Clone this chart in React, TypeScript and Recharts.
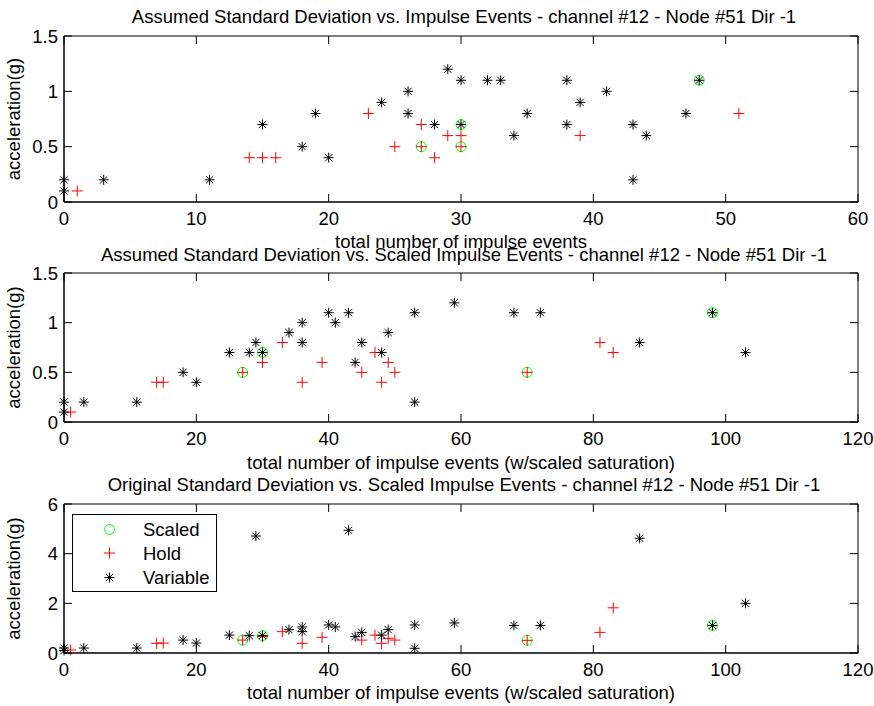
import React from 'react';
import { ScatterChart, Scatter, XAxis, YAxis, ReferenceArea, Legend } from 'recharts';

const FONT = '"Liberation Sans", Arial, Helvetica, sans-serif';
const FS = 18.5;

// ---------- Plot 1: Assumed Standard Deviation vs. Impulse Events ----------
const p1ScaledX = [27, 30, 30, 48];
const p1ScaledY = [0.5, 0.7, 0.5, 1.1];
const p1HoldX = [1, 14, 15, 16, 23, 25, 27, 27, 28, 29, 30, 30, 39, 51];
const p1HoldY = [0.1, 0.4, 0.4, 0.4, 0.8, 0.5, 0.5, 0.7, 0.4, 0.6, 0.6, 0.5, 0.6, 0.8];
const p1VarX = [0, 0, 3, 11, 15, 18, 19, 20, 24, 26, 26, 28, 29, 30, 30, 32, 33, 34, 35, 38, 38, 39, 41, 43, 43, 44, 47, 48];
const p1VarY = [0.2, 0.1, 0.2, 0.2, 0.7, 0.5, 0.8, 0.4, 0.9, 1.0, 0.8, 0.7, 1.2, 1.1, 0.7, 1.1, 1.1, 0.6, 0.8, 1.1, 0.7, 0.9, 1.0, 0.7, 0.2, 0.6, 0.8, 1.1];

// ---------- Plot 2: Assumed Standard Deviation vs. Scaled Impulse Events ----------
const p2ScaledX = [27, 30, 70, 98];
const p2ScaledY = [0.5, 0.7, 0.5, 1.1];
const p2HoldX = [1, 14, 15, 27, 30, 33, 36, 39, 45, 47, 48, 49, 50, 70, 81, 83];
const p2HoldY = [0.1, 0.4, 0.4, 0.5, 0.6, 0.8, 0.4, 0.6, 0.5, 0.7, 0.4, 0.6, 0.5, 0.5, 0.8, 0.7];
const p2VarX = [0, 0, 3, 11, 18, 20, 25, 28, 29, 30, 34, 36, 36, 40, 41, 43, 44, 45, 48, 49, 53, 53, 59, 68, 72, 87, 98, 103];
const p2VarY = [0.2, 0.1, 0.2, 0.2, 0.5, 0.4, 0.7, 0.7, 0.8, 0.7, 0.9, 1.0, 0.8, 1.1, 1.0, 1.1, 0.6, 0.8, 0.7, 0.9, 1.1, 0.2, 1.2, 1.1, 1.1, 0.8, 1.1, 0.7];

// ---------- Plot 3: Original Standard Deviation vs. Scaled Impulse Events ----------
const p3ScaledX = [27, 30, 70, 98];
const p3ScaledY = [0.52, 0.7, 0.51, 1.11];
const p3HoldX = [1, 14, 15, 27, 30, 33, 36, 39, 45, 47, 48, 49, 50, 70, 81, 83];
const p3HoldY = [0.12, 0.39, 0.4, 0.52, 0.66, 0.86, 0.39, 0.63, 0.52, 0.72, 0.39, 0.59, 0.52, 0.51, 0.83, 1.82];
const p3VarX = [0, 0, 3, 11, 18, 20, 25, 28, 29, 30, 34, 36, 36, 40, 41, 43, 44, 45, 48, 49, 53, 53, 59, 68, 72, 87, 98, 103];
const p3VarY = [0.2, 0.1, 0.2, 0.2, 0.52, 0.4, 0.72, 0.7, 4.71, 0.7, 0.94, 1.05, 0.86, 1.13, 1.05, 4.94, 0.66, 0.83, 0.72, 0.94, 1.13, 0.19, 1.21, 1.11, 1.11, 4.62, 1.11, 2.0];

// ---------- Ticks & labels ----------
const xTicks1 = [0, 10, 20, 30, 40, 50, 60];
const xTicks23 = [0, 20, 40, 60, 80, 100, 120];
const yTicks12 = [0, 0.5, 1, 1.5];
const yTicks3 = [0, 2, 4, 6];
const titles = [
  'Assumed Standard Deviation vs. Impulse Events - channel #12 - Node #51 Dir -1',
  'Assumed Standard Deviation vs. Scaled Impulse Events - channel #12 - Node #51 Dir -1',
  'Original Standard Deviation vs. Scaled Impulse Events - channel #12 - Node #51 Dir -1',
];
const xLabels = [
  'total number of impulse events',
  'total number of impulse events (w/scaled saturation)',
  'total number of impulse events (w/scaled saturation)',
];
const yLabel = 'acceleration(g)';
const seriesNames = ['Scaled', 'Hold', 'Variable'];

const zip = (xs: number[], ys: number[]) => xs.map((x, i) => ({ x, y: ys[i] }));

const W = 874;
const H = 706;
const LEFT = 64;
const RIGHT = 858;
const PLOT_W = RIGHT - LEFT;
const TICK = 8;

const StarShape = (props: any) => {
  const { cx, cy } = props;
  if (cx == null || cy == null) return <g />;
  const r = 5;
  const d = 3.6;
  return (
    <g stroke="#000" strokeWidth={1}>
      <line x1={cx - r} y1={cy} x2={cx + r} y2={cy} />
      <line x1={cx} y1={cy - r} x2={cx} y2={cy + r} />
      <line x1={cx - d} y1={cy - d} x2={cx + d} y2={cy + d} />
      <line x1={cx - d} y1={cy + d} x2={cx + d} y2={cy - d} />
    </g>
  );
};

const PlusShape = (props: any) => {
  const { cx, cy } = props;
  if (cx == null || cy == null) return <g />;
  const r = 5.5;
  return (
    <g stroke="#ff0000" strokeWidth={1}>
      <line x1={cx - r} y1={cy} x2={cx + r} y2={cy} />
      <line x1={cx} y1={cy - r} x2={cx} y2={cy + r} />
    </g>
  );
};

const CircleShape = (props: any) => {
  const { cx, cy } = props;
  if (cx == null || cy == null) return <g />;
  return <circle cx={cx} cy={cy} r={5} fill="none" stroke="#00ff00" strokeWidth={1} />;
};

const LegendBox = () => (
  <svg width={145} height={78} style={{ display: 'block' }}>
    <rect x={0.5} y={0.5} width={144} height={77} fill="#fff" stroke="#000" strokeWidth={1} />
    <CircleShape cx={37.5} cy={15.5} />
    <PlusShape cx={37.5} cy={39} />
    <StarShape cx={37.5} cy={63.5} />
    {seriesNames.map((n, i) => (
      <text key={n} x={71} y={[15.5, 39, 63.5][i]} dominantBaseline="central" fontFamily={FONT} fontSize={FS} fill="#000">
        {n}
      </text>
    ))}
  </svg>
);

type PanelProps = {
  top: number;
  bottom: number;
  xMax: number;
  yMax: number;
  xTicks: number[];
  yTicks: number[];
  scaled: { x: number; y: number }[];
  hold: { x: number; y: number }[];
  variable: { x: number; y: number }[];
  legend?: boolean;
};

const Panel = ({ top, bottom, xMax, yMax, xTicks, yTicks, scaled, hold, variable, legend }: PanelProps) => {
  const plotH = bottom - top;
  const xTick = (p: any) => {
    const { x, y, payload } = p;
    return (
      <g>
        <line x1={x} x2={x} y1={y} y2={y - TICK} stroke="#000" />
        <line x1={x} x2={x} y1={y - plotH} y2={y - plotH + TICK} stroke="#000" />
        <text x={x} y={y + 22.5} textAnchor="middle" fontFamily={FONT} fontSize={FS} fill="#000">
          {payload.value}
        </text>
      </g>
    );
  };
  const yTick = (p: any) => {
    const { x, y, payload } = p;
    return (
      <g>
        <line x1={x} x2={x + TICK} y1={y} y2={y} stroke="#000" />
        <line x1={x + PLOT_W - TICK} x2={x + PLOT_W} y1={y} y2={y} stroke="#000" />
        <text x={x - 6} y={y} textAnchor="end" dominantBaseline="central" fontFamily={FONT} fontSize={FS} fill="#000">
          {payload.value}
        </text>
      </g>
    );
  };
  return (
    <div style={{ position: 'absolute', left: 0, top: 0 }}>
      <ScatterChart width={W} height={H} margin={{ top, right: W - RIGHT, bottom: H - bottom - 30, left: 0 }}>
        <XAxis
          type="number"
          dataKey="x"
          domain={[0, xMax]}
          ticks={xTicks}
          interval={0}
          height={30}
          tickSize={0}
          tickMargin={0}
          tickLine={false}
          axisLine={{ stroke: '#000' }}
          tick={xTick}
        />
        <YAxis
          type="number"
          dataKey="y"
          domain={[0, yMax]}
          ticks={yTicks}
          interval={0}
          width={LEFT}
          tickSize={0}
          tickMargin={0}
          tickLine={false}
          axisLine={{ stroke: '#000' }}
          tick={yTick}
        />
        <ReferenceArea x1={0} x2={xMax} y1={0} y2={yMax} fill="none" fillOpacity={0} stroke="#000" strokeOpacity={1} ifOverflow="visible" />
        <Scatter name={seriesNames[0]} data={scaled} shape={CircleShape} isAnimationActive={false} />
        <Scatter name={seriesNames[1]} data={hold} shape={PlusShape} isAnimationActive={false} />
        <Scatter name={seriesNames[2]} data={variable} shape={StarShape} isAnimationActive={false} />
        {legend && (
          <Legend
            layout="vertical"
            align="center"
            verticalAlign="middle"
            wrapperStyle={{ left: 72, top: 514, width: 145, height: 78 }}
            content={() => <LegendBox />}
          />
        )}
      </ScatterChart>
    </div>
  );
};

const textStyle = { fontFamily: FONT, fontSize: FS, fill: '#000' } as const;

export default function App() {
  const panels = [
    { top: 36, bottom: 202 },
    { top: 273, bottom: 422 },
    { top: 504, bottom: 653 },
  ];
  const titleBase = [23.3, 260.7, 490.7];
  const xLabelBase = [247.5, 468.5, 698.5];
  const cx = (LEFT + RIGHT) / 2;
  return (
    <div style={{ position: 'absolute', left: 0, top: 0, width: W, height: H, background: '#fff', overflow: 'hidden' }}>
      <Panel {...panels[0]} xMax={60} yMax={1.5} xTicks={xTicks1} yTicks={yTicks12}
        scaled={zip(p1ScaledX, p1ScaledY)} hold={zip(p1HoldX, p1HoldY)} variable={zip(p1VarX, p1VarY)} />
      <Panel {...panels[1]} xMax={120} yMax={1.5} xTicks={xTicks23} yTicks={yTicks12}
        scaled={zip(p2ScaledX, p2ScaledY)} hold={zip(p2HoldX, p2HoldY)} variable={zip(p2VarX, p2VarY)} />
      <Panel {...panels[2]} xMax={120} yMax={6} xTicks={xTicks23} yTicks={yTicks3}
        scaled={zip(p3ScaledX, p3ScaledY)} hold={zip(p3HoldX, p3HoldY)} variable={zip(p3VarX, p3VarY)} legend />
      <svg width={W} height={H} style={{ position: 'absolute', left: 0, top: 0, pointerEvents: 'none' }}>
        {titles.map((t, i) => (
          <text key={'t' + i} x={cx + 3} y={titleBase[i]} textAnchor="middle" {...textStyle}>{t}</text>
        ))}
        {xLabels.map((t, i) => (
          <text key={'x' + i} x={cx} y={xLabelBase[i]} textAnchor="middle" {...textStyle}>{t}</text>
        ))}
        {panels.map((p, i) => {
          const cy = (p.top + p.bottom) / 2;
          return (
            <text key={'y' + i} x={20} y={cy} textAnchor="middle" transform={`rotate(-90 20 ${cy})`} {...textStyle}>
              {yLabel}
            </text>
          );
        })}
      </svg>
    </div>
  );
}
